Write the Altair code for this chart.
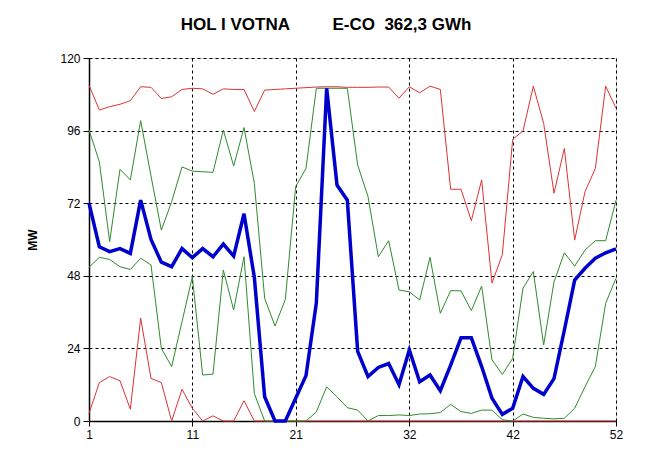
import altair as alt
import pandas as pd

weeks = list(range(1, 53))

max_mw = [111, 102.8, 103.9, 104.7, 105.9, 110.5, 110.3, 106.6, 107.2, 109.6,
          110, 109.8, 108, 109.8, 109.6, 109.6, 102.3, 109.4, 109.6, 109.8,
          110, 110.2, 110.4, 110.5, 110.5, 110.3, 110.3, 110.3, 110.4, 110.4,
          106.7, 110.5, 108.5, 110.7, 109.6, 76.6, 76.6, 66.2, 79.7, 45.6,
          55, 93.1, 95.9, 110.7, 98.4, 75.3, 90.1, 59.8, 75.8, 83.5,
          110.7, 103.4]

upper_mw = [96.2, 85.7, 59.3, 83.2, 79.7, 99.3, 81, 63.1, 72.5, 84,
            82.6, 82.4, 82.2, 96.2, 84.3, 97, 78.6, 40.6, 31.4, 40.2,
            77.5, 83.5, 110, 110, 110, 110, 84.6, 74.2, 54.3, 59.6,
            43.3, 42.7, 40, 54.1, 35.6, 43.1, 43, 36.5, 44.6, 20.2,
            15.4, 20.7, 43.9, 49.4, 25.1, 46, 55.6, 51.2, 56.5, 59.6,
            59.6, 73]

mean_mw = [72, 57.6, 56, 57, 55.4, 73, 60, 52.5, 51, 57,
           54, 57, 54.3, 58.5, 54.5, 68.5, 47.5, 8, 0, 0,
           7.5, 15, 39, 110, 78, 73, 23, 14.7, 17.7, 19,
           12, 23.5, 13, 15.2, 10, 18.5, 27.5, 27.5, 18, 7.5,
           2.2, 4.2, 14.7, 10.8, 8.8, 14, 30, 46.6, 50.5, 53.8,
           55.6, 56.9]

lower_mw = [50.8, 54.1, 53.4, 51, 50.1, 53.8, 51.6, 24, 18, 32.8,
            47.7, 15.2, 15.5, 49.9, 36.7, 54.3, 9.1, 0, 0, 0,
            0, 0, 3, 11.3, 8, 4.4, 3.6, 0, 1.8, 1.8,
            2, 1.8, 2.3, 2.4, 2.8, 5.5, 3.1, 2.5, 3.6, 3.6,
            0.4, 0, 2.3, 1.2, 0.9, 0.7, 0.9, 4.2, 11.3, 18,
            38.9, 47.2]

min_mw = [2.5, 12.7, 14.7, 13.3, 3.9, 34, 14.1, 12.7, 0, 10.5,
          4.2, 0, 1.7, 0, 0, 6.7, 0, 0, 0, 0,
          0, 0, 0, 0, 0, 0, 0, 0, 0, 0,
          0, 0, 0, 0, 0, 0, 0, 0, 0, 0,
          0, 0, 0, 0, 0, 0, 0, 0, 0, 0,
          0, 0]

x_ticks = [1, 11, 21, 32, 42, 52]
y_ticks = [0, 24, 48, 72, 96, 120]

sp = "\u00a0"
title_text = "HOL I VOTNA" + sp * 9 + "E-CO" + sp * 2 + "362,3 GWh"

df = pd.DataFrame({"week": weeks, "max": max_mw, "upper": upper_mw,
                   "mean": mean_mw, "lower": lower_mw, "min": min_mw})

FONT = "Liberation Sans"

x_enc = alt.X("week:Q", scale=alt.Scale(domain=[1, 52], nice=False, zero=False),
              axis=alt.Axis(values=x_ticks, title=None, grid=True, gridDash=[3, 3],
                            gridColor="#000000", gridOpacity=1, gridWidth=1,
                            domainColor="#000000", domainWidth=1.5,
                            tickColor="#000000", tickSize=5,
                            labelFont=FONT, labelFontSize=12, labelColor="#000000",
                            labelPadding=3, labelFlush=False))
y_enc = alt.Y("value:Q", scale=alt.Scale(domain=[0, 120], nice=False),
              axis=alt.Axis(values=y_ticks, title="MW", grid=True, gridDash=[3, 3],
                            gridColor="#000000", gridOpacity=1, gridWidth=1,
                            domainColor="#000000", domainWidth=1.5,
                            tickColor="#000000", tickSize=6,
                            labelFont=FONT, labelFontSize=12, labelColor="#000000",
                            labelPadding=3, titleFont=FONT, titleFontSize=12,
                            titleFontWeight="bold", titleColor="#000000",
                            titlePadding=20))

base = alt.Chart(df)

red = base.transform_fold(["max", "min"], as_=["series", "value"]).mark_line(
    color="#dd3333", strokeWidth=1).encode(x=x_enc, y=y_enc, detail="series:N")
green = base.transform_fold(["upper", "lower"], as_=["series", "value"]).mark_line(
    color="#2e8b2e", strokeWidth=1).encode(x=x_enc, y=y_enc, detail="series:N")
blue = base.transform_fold(["mean"], as_=["series", "value"]).mark_line(
    color="#0000cc", strokeWidth=3.5).encode(x=x_enc, y=y_enc, detail="series:N")

title = alt.Chart(pd.DataFrame({"t": [title_text]})).mark_text(
    font=FONT, fontSize=17, fontWeight="bold", color="#000000",
    align="center", baseline="alphabetic").encode(
    text="t:N", x=alt.value(237), y=alt.value(-28))

chart = alt.layer(red, green, blue, title).properties(
    width=527, height=363,
    autosize=alt.AutoSizeParams(type="none"),
    padding={"left": 81, "top": 50, "right": 26, "bottom": 39},
).configure_view(stroke=None).configure(background="#ffffff")

chart.save("out.html", embed_options={"renderer": "svg", "actions": False})
